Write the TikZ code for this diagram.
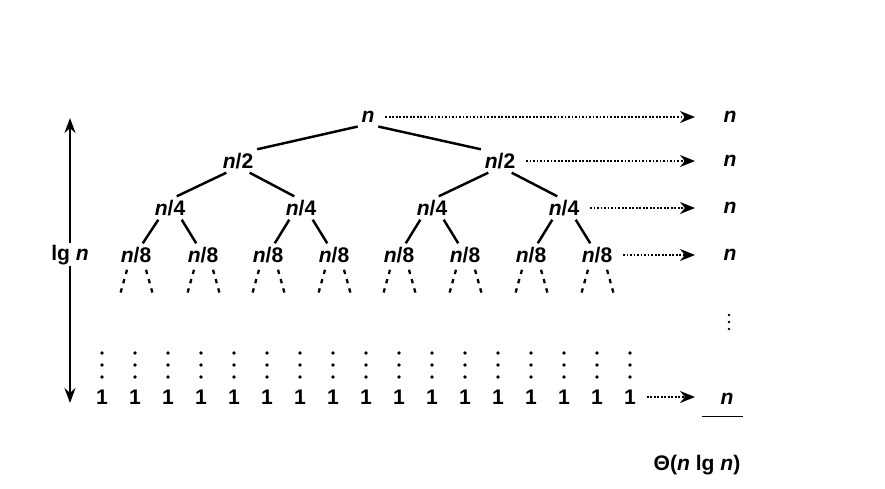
\documentclass[tikz,border=0pt]{standalone}
\usepackage{fontspec}
\setmainfont{Liberation Sans}
\usetikzlibrary{arrows.meta,positioning,calc}
\newcommand{\nv}{\textit{n}}

\begin{document}
\begin{tikzpicture}[x=0.02cm, y=-0.02cm,
    every node/.style={font=\fontsize{12}{14}\selectfont\bfseries, inner sep=2pt},
    edge/.style={line width=1.4pt},
    stub/.style={line width=1.3pt, dash pattern=on 2.5pt off 3pt},
    sumarr/.style={densely dotted, line width=1pt, shorten <=4pt, -{Stealth[length=3mm,width=2.4mm]}},
    heightarr/.style={line width=1.2pt, {Stealth[length=3mm,width=2.2mm]}-{Stealth[length=3mm,width=2.2mm]}},
]
    \useasboundingbox (0,0) rectangle (885,488);
    \coordinate (tip) at (695,0);

    % recursion tree
    \node (r) at (368,117) {\nv};
    \node (a1) at (238,161) {\nv/2};
    \node (a2) at (500,161) {\nv/2};
    \foreach \x [count=\i] in {170,301,432,564}
        \node (b\i) at (\x,208) {\nv/4};
    \foreach \x [count=\i] in {136,203,268,334,399,465,531,597}
        \node (c\i) at (\x,255) {\nv/8};

    \draw[edge] (r.south west) -- (a1.north east);
    \draw[edge] (r.south east) -- (a2.north west);
    \foreach \p/\c in {a1/b1,a2/b3,b1/c1,b2/c3,b3/c5,b4/c7}
        \draw[edge] (\p.225) -- (\c.60);
    \foreach \p/\c in {a1/b2,a2/b4,b1/c2,b2/c4,b3/c6,b4/c8}
        \draw[edge] (\p.315) -- (\c.120);

    % unexpanded subtrees
    \foreach \i in {1,...,8} {
        \draw[stub] ($(c\i.south)+(-9,3)$) -- ++(-7,25);
        \draw[stub] ($(c\i.south)+(10,3)$) -- ++(7,25);
    }

    % leaves
    \foreach \i [evaluate=\i as \x using 69+33*\i] in {1,...,17} {
        \node (d\i) at (\x,397) {1};
        \foreach \y in {353,365,377}
            \fill (\x,\y) circle[radius=1.8];
    }

    % height of the tree
    \coordinate (htop) at (70,118);
    \coordinate (hbot) at (70,403);
    \draw[heightarr] (htop) -- (hbot) node[pos=0.48, fill=white, inner sep=1pt] (lg) {lg \nv};

    % cost per level
    \node (s1) at (730,117) {\nv};
    \node (s2) at (730,161) {\nv};
    \node (s3) at (730,208) {\nv};
    \node (s4) at (730,255) {\nv};
    \foreach \y in {315,322,329}
        \fill (729,\y) circle[radius=1.4];
    \node (s5) at (727,399) {\nv};
    \draw[sumarr] (r.east) -- (r.east -| tip);
    \draw[sumarr] (a2.east) -- (a2.east -| tip);
    \draw[sumarr] (b4.east) -- (b4.east -| tip);
    \draw[sumarr] (c8.east) -- (c8.east -| tip);
    \draw[sumarr] (d17.east) -- (d17.east -| tip);

    % total
    \draw[line width=0.9pt] ($(s5.south)+(-25,8)$) -- ++(41,0);
    \node (tot) at (697,465) {Θ(\nv{} lg \nv)};
\end{tikzpicture}
\end{document}
